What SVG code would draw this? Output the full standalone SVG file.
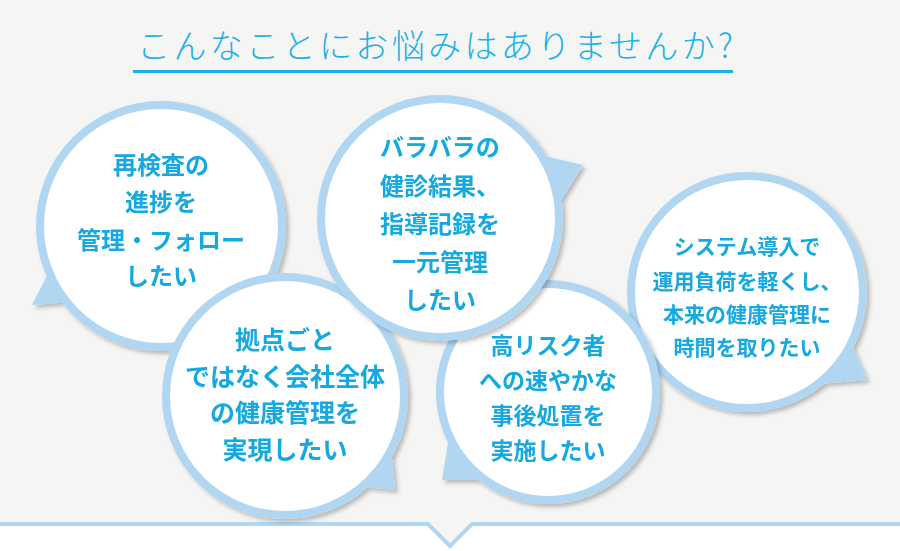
<svg xmlns="http://www.w3.org/2000/svg" width="900" height="551" viewBox="0 0 900 551">
<defs>
<style>
.ring{fill:#fff;stroke:#b0d6f1;stroke-width:8}
.tail{fill:#b0d6f1}
.t{font-family:"Noto Sans CJK JP","Noto Sans",sans-serif;font-weight:700;fill:#12a8e0;text-anchor:middle}
</style>
<filter id="sh" x="-10%" y="-10%" width="130%" height="130%"><feDropShadow dx="3" dy="3" stdDeviation="2" flood-color="#000" flood-opacity="0.25"/></filter>
</defs>
<rect width="900" height="551" fill="#f5f5f4"/>
<path d="M-5 524 H428 L450 546 L472 524 H905 V560 H-5 Z" fill="#fff" stroke="#b0d6f1" stroke-width="4"/>
<text x="435" y="58" font-family="Noto Sans CJK JP,sans-serif" font-weight="300" font-size="33" fill="#1ab0e8" text-anchor="middle" textLength="596">こんなことにお悩みはありませんか?</text>
<rect x="133" y="70" width="600" height="3" fill="#1ab0e8"/>
<g id="connectors"></g>
<g id="b1" filter="url(#sh)">
<polygon class="tail" points="32,305 60,250 95,300"/>
<circle class="ring" cx="161" cy="226" r="121"/>
<g class="t" font-size="24"><text x="161" y="174">再検査の</text><text x="161" y="211">進捗を</text><text x="161" y="249" textLength="168">管理・フォロー</text><text x="161" y="285">したい</text></g>
</g>
<g id="b5" filter="url(#sh)">
<polygon class="tail" points="867,380 845,330 805,385"/>
<circle class="ring" cx="747" cy="292" r="116"/>
<g class="t" font-size="21"><text x="747" y="254">システム導入で</text><text x="747" y="289">運用負荷を軽くし、</text><text x="747" y="322">本来の健康管理に</text><text x="747" y="355">時間を取りたい</text></g>
</g>
<g id="b2" filter="url(#sh)">
<polygon class="tail" points="395,490 390,440 345,485"/>
<circle class="ring" cx="285" cy="396" r="119"/>
<g class="t" font-size="25"><text x="285" y="349">拠点ごと</text><text x="285" y="386">ではなく会社全体</text><text x="285" y="422">の健康管理を</text><text x="285" y="459">実現したい</text></g>
</g>
<g id="b4" filter="url(#sh)">
<polygon class="tail" points="442,480 450,430 490,480"/>
<circle class="ring" cx="548" cy="392" r="108"/>
<g class="t" font-size="23"><text x="548" y="354">高リスク者</text><text x="548" y="389">への速やかな</text><text x="548" y="424">事後処置を</text><text x="548" y="459">実施したい</text></g>
</g>
<g id="b3" filter="url(#sh)">
<polygon class="tail" points="583,165 540,155 555,210"/>
<circle class="ring" cx="440" cy="218" r="119"/>
<g class="t" font-size="24"><text x="440" y="156">バラバラの</text><text x="440" y="195">健診結果、</text><text x="440" y="233">指導記録を</text><text x="440" y="271">一元管理</text><text x="440" y="309">したい</text></g>
</g>
</svg>
